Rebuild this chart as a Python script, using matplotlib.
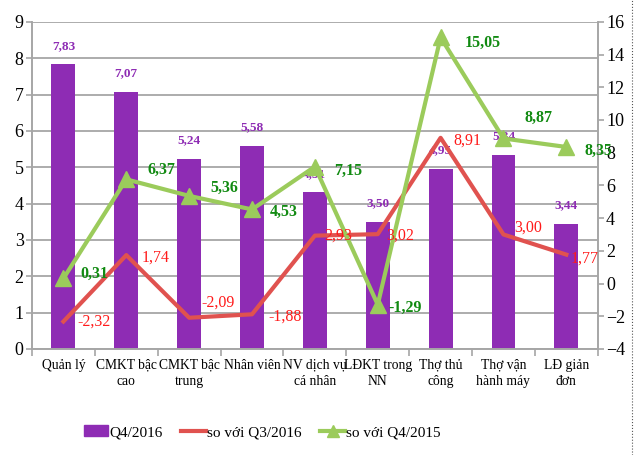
import matplotlib
matplotlib.use("Agg")
import matplotlib.pyplot as plt
import numpy as np
from matplotlib.lines import Line2D
from matplotlib.patches import Patch

categories = ["Quản lý", "CMKT bậc\ncao", "CMKT bậc\ntrung", "Nhân viên", "NV dịch vụ\ncá nhân",
              "LĐKT trong\nNN", "Thợ thủ\ncông", "Thợ vận\nhành máy", "LĐ giản\nđơn"]
q4_2016 = [7.83, 7.07, 5.24, 5.58, 4.31, 3.50, 4.95, 5.34, 3.44]
vs_q3_2016 = [-2.32, 1.74, -2.09, -1.88, 2.93, 3.02, 8.91, 3.00, 1.77]
vs_q4_2015 = [0.31, 6.37, 5.36, 4.53, 7.15, -1.29, 15.05, 8.87, 8.35]

def fmt(v):
    return f"{v:.2f}".replace(".", ",")

plt.rcParams['font.family'] = ['Liberation Serif', 'DejaVu Serif']

PURPLE = "#8E2CB4"
RED = "#E0524F"
GREEN = "#9BCB5B"
GRID = "#A6A6A6"

fig = plt.figure(figsize=(6.4, 4.55), dpi=100)
ax = fig.add_axes([0.05, 0.233, 0.884, 0.719])
ax2 = ax.twinx()

x = np.arange(len(categories))
ax.bar(x, q4_2016, width=0.38, color=PURPLE, zorder=2)
ax.set_ylim(0, 9)
ax.set_yticks(range(0, 10))
ax.set_xlim(-0.5, len(categories) - 0.5)
ax.grid(axis='y', color=GRID, linewidth=1.3, zorder=0)
ax.set_axisbelow(True)

ax2.plot(x, vs_q3_2016, color=RED, linewidth=3, zorder=3)
ax2.plot(x, vs_q4_2015, color=GREEN, linewidth=3, marker='^', markersize=11, zorder=4)
ax2.set_ylim(-4, 16)
ax2.set_yticks(range(-4, 17, 2))

for a in (ax, ax2):
    for s in a.spines.values():
        s.set_color(GRID)
        s.set_linewidth(1.2)
    a.spines['top'].set_visible(False)
    a.tick_params(axis='y', labelsize=13, color=GRID, length=4, width=1.2, pad=2)

ax.set_xticks(x)
ax.set_xticklabels(categories, fontsize=9.8, linespacing=1.35)
ax.tick_params(axis='x', which='major', length=0, pad=7)
ax.set_xticks(np.arange(-0.5, len(categories), 1), minor=True)
ax.tick_params(axis='x', which='minor', length=5, color=GRID, width=1.2)

# purple labels
for xi, v in zip(x, q4_2016):
    ax.annotate(fmt(v), (xi, v), xytext=(0, 9), textcoords='offset points',
                ha='center', va='bottom', color=PURPLE, fontsize=9.5, fontweight='bold', zorder=5)

red_off = [(22, 0), (21, -2), (21, 11), (24, -2), (17, 0), (16, -1), (19, -2), (18, 5), (13, -3)]
green_off = [(22, 3), (25, 7), (25, 6), (23, -2), (24, -3), (20, -2), (30, -4), (25, 15), (23, -3)]
for xi, v, (dx, dy) in zip(x, vs_q3_2016, red_off):
    ax2.annotate(fmt(v), (xi, v), xytext=(dx, dy), textcoords='offset points',
                 ha='center', va='center', color='#FF1A1A', fontsize=11.5, zorder=6)
for xi, v, (dx, dy) in zip(x, vs_q4_2015, green_off):
    ax2.annotate(fmt(v), (xi, v), xytext=(dx, dy), textcoords='offset points',
                 ha='center', va='center', color='#118A11', fontsize=11.5, fontweight='bold', zorder=6)

handles = [Patch(color=PURPLE),
           Line2D([0], [0], color=RED, linewidth=3),
           Line2D([0], [0], color=GREEN, linewidth=3, marker='^', markersize=9)]
fig.legend(handles, ["Q4/2016", "so với Q3/2016", "so với Q4/2015"], loc='center',
           bbox_to_anchor=(0.41, 0.05), ncol=3, frameon=False, fontsize=11,
           handlelength=1.6, handletextpad=0.1, columnspacing=1.2)

fig.add_artist(Line2D([0.988, 0.988], [0.0, 1.0], transform=fig.transFigure,
                      color='#555555', linewidth=0.8, linestyle=':'))

fig.savefig("out.png", dpi=100)
